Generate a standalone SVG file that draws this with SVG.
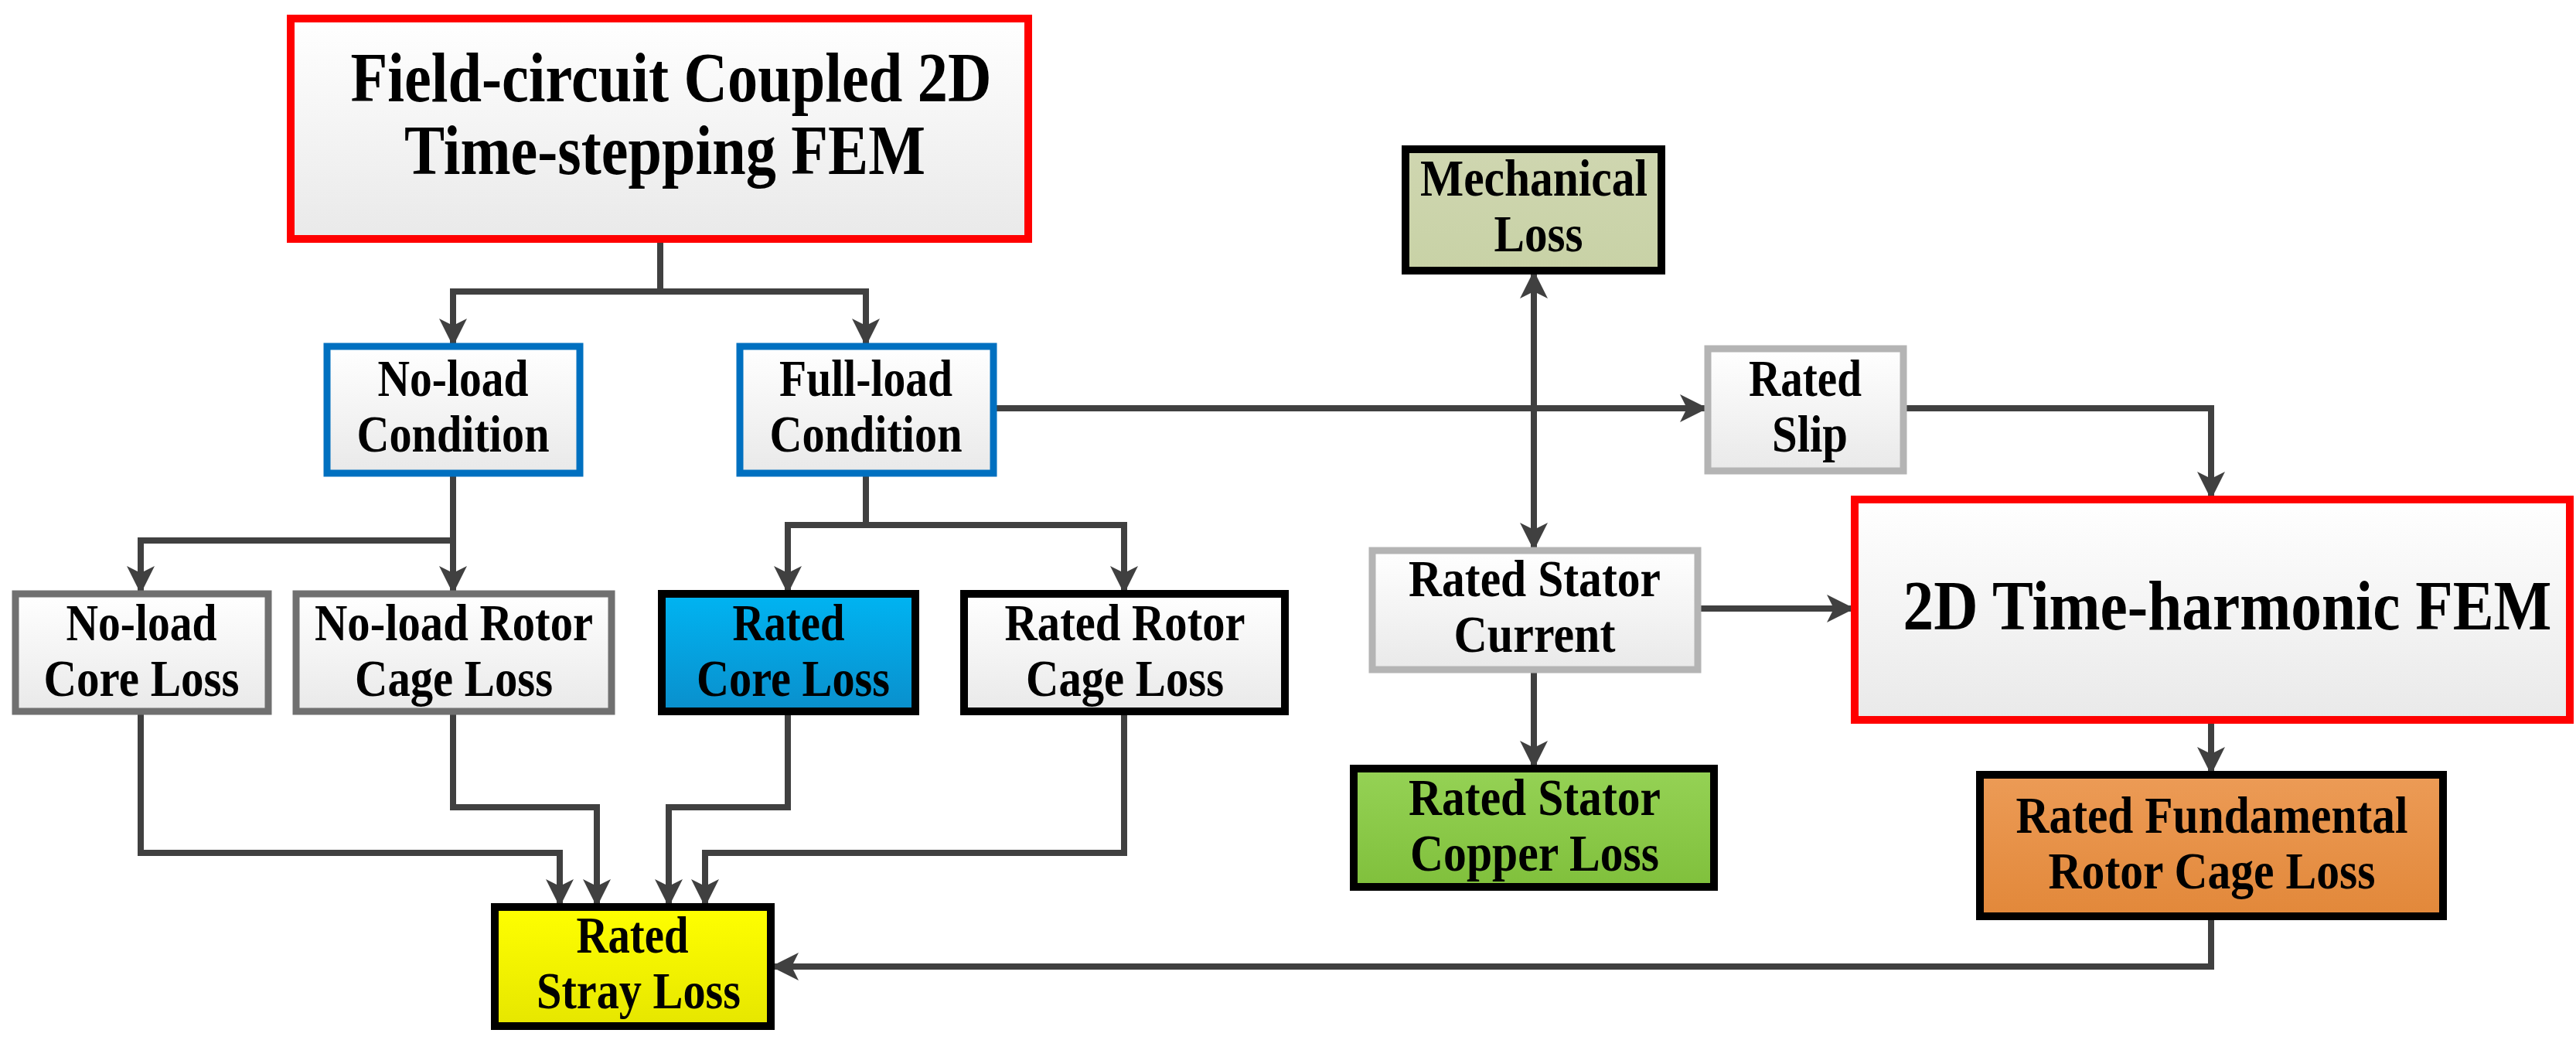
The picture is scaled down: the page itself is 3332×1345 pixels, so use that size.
<svg xmlns="http://www.w3.org/2000/svg" width="3332" height="1345" viewBox="0 0 3332 1345" font-family="'Liberation Serif', 'Times New Roman', 'DejaVu Serif', serif">
<defs>
<linearGradient id="gw" x1="0" y1="0" x2="0" y2="1"><stop offset="0" stop-color="#ffffff"/><stop offset="1" stop-color="#e9e9e9"/></linearGradient>
<linearGradient id="gb" x1="0" y1="0" x2="0" y2="1"><stop offset="0" stop-color="#00b4f2"/><stop offset="1" stop-color="#0a8fcc"/></linearGradient>
<linearGradient id="gy" x1="0" y1="0" x2="0" y2="1"><stop offset="0" stop-color="#ffff00"/><stop offset="1" stop-color="#e6e600"/></linearGradient>
<linearGradient id="gm" x1="0" y1="0" x2="0" y2="1"><stop offset="0" stop-color="#cfd6b0"/><stop offset="1" stop-color="#c8d2a6"/></linearGradient>
<linearGradient id="gg" x1="0" y1="0" x2="0" y2="1"><stop offset="0" stop-color="#95d255"/><stop offset="1" stop-color="#80c03c"/></linearGradient>
<linearGradient id="go" x1="0" y1="0" x2="0" y2="1"><stop offset="0" stop-color="#ec9b56"/><stop offset="1" stop-color="#e2883a"/></linearGradient>
<marker id="ah" markerUnits="userSpaceOnUse" markerWidth="40" markerHeight="36" refX="34" refY="18" orient="auto"><path d="M0,0 L36,18 L0,36 L9,18 Z" fill="#404040"/></marker>
<marker id="as" markerUnits="userSpaceOnUse" markerWidth="40" markerHeight="36" refX="34" refY="18" orient="auto-start-reverse"><path d="M0,0 L36,18 L0,36 L9,18 Z" fill="#404040"/></marker>
</defs>
<style>
text{font-family:"Liberation Serif","Times New Roman","DejaVu Serif",serif;font-weight:bold;fill:#000;text-anchor:middle}
.t{font-size:68px}
.big{font-size:92px}
.c{fill:none;stroke:#404040;stroke-width:8}
.gr{fill:url(#gw);stroke:#707070;stroke-width:9}
.lg{fill:url(#gw);stroke:#b4b4b4;stroke-width:9}
.bl{fill:url(#gw);stroke:#0070c0;stroke-width:9}
.bk{stroke:#000;stroke-width:10}
.rd{fill:url(#gw);stroke:#ff0000;stroke-width:10}
</style>
<g id="connectors">
<path class="c" d="M854,309 V377 H586 V446" marker-end="url(#ah)"/>
<path class="c" d="M854,377 H1120 V446" marker-end="url(#ah)"/>
<path class="c" d="M586,612 V699 H182 V766" marker-end="url(#ah)"/>
<path class="c" d="M586,699 V766" marker-end="url(#ah)"/>
<path class="c" d="M1120,612 V679 H1019 V766" marker-end="url(#ah)"/>
<path class="c" d="M1120,679 H1454 V766" marker-end="url(#ah)"/>
<path class="c" d="M182,920 V1103 H724 V1171" marker-end="url(#ah)"/>
<path class="c" d="M586,920 V1044 H772 V1171" marker-end="url(#ah)"/>
<path class="c" d="M1019,920 V1044 H865 V1171" marker-end="url(#ah)"/>
<path class="c" d="M1454,920 V1103 H912 V1171" marker-end="url(#ah)"/>
<path class="c" d="M1285,528 H2207" marker-end="url(#ah)"/>
<path class="c" d="M2462,528 H2860 V644" marker-end="url(#ah)"/>
<path class="c" d="M1984,352 V710" marker-start="url(#as)" marker-end="url(#ah)"/>
<path class="c" d="M2196,787 H2397" marker-end="url(#ah)"/>
<path class="c" d="M1984,866 V992" marker-end="url(#ah)"/>
<path class="c" d="M2860,931 V1000" marker-end="url(#ah)"/>
<path class="c" d="M2860,1185 V1250 H999" marker-end="url(#ah)"/>
</g>
<g id="n-top"><rect class="rd" x="376" y="24" width="954" height="285"/><text class="big" x="868" y="131" textLength="829" lengthAdjust="spacingAndGlyphs">Field-circuit Coupled 2D</text><text class="big" x="860" y="225" textLength="674" lengthAdjust="spacingAndGlyphs">Time-stepping FEM</text></g>
<g id="n-noload"><rect class="bl" x="423" y="448" width="327" height="164"/><text class="t" x="586" y="512" textLength="195" lengthAdjust="spacingAndGlyphs">No-load</text><text class="t" x="586" y="584" textLength="249" lengthAdjust="spacingAndGlyphs">Condition</text></g>
<g id="n-fullload"><rect class="bl" x="957" y="448" width="328" height="164"/><text class="t" x="1120" y="512" textLength="224" lengthAdjust="spacingAndGlyphs">Full-load</text><text class="t" x="1120" y="584" textLength="249" lengthAdjust="spacingAndGlyphs">Condition</text></g>
<g id="n-nlcore"><rect class="gr" x="20" y="768" width="327" height="152"/><text class="t" x="183" y="828" textLength="195" lengthAdjust="spacingAndGlyphs">No-load</text><text class="t" x="183" y="900" textLength="253" lengthAdjust="spacingAndGlyphs">Core Loss</text></g>
<g id="n-nlrotor"><rect class="gr" x="383" y="768" width="408" height="152"/><text class="t" x="587" y="828" textLength="360" lengthAdjust="spacingAndGlyphs">No-load Rotor</text><text class="t" x="587" y="900" textLength="256" lengthAdjust="spacingAndGlyphs">Cage Loss</text></g>
<g id="n-ratedcore"><rect class="bk" fill="url(#gb)" x="856" y="768" width="328" height="152"/><text class="t" x="1020" y="828" textLength="145" lengthAdjust="spacingAndGlyphs">Rated</text><text class="t" x="1026" y="900" textLength="250" lengthAdjust="spacingAndGlyphs">Core Loss</text></g>
<g id="n-ratedrotor"><rect class="bk" fill="url(#gw)" x="1247" y="768" width="415" height="152"/><text class="t" x="1455" y="828" textLength="311" lengthAdjust="spacingAndGlyphs">Rated Rotor</text><text class="t" x="1455" y="900" textLength="256" lengthAdjust="spacingAndGlyphs">Cage Loss</text></g>
<g id="n-stray"><rect class="bk" fill="url(#gy)" x="640" y="1173" width="357" height="154"/><text class="t" x="818" y="1232" textLength="145" lengthAdjust="spacingAndGlyphs">Rated</text><text class="t" x="826" y="1304" textLength="264" lengthAdjust="spacingAndGlyphs">Stray Loss</text></g>
<g id="n-mech"><rect class="bk" fill="url(#gm)" x="1818" y="193" width="331" height="157"/><text class="t" x="1984" y="253" textLength="294" lengthAdjust="spacingAndGlyphs">Mechanical</text><text class="t" x="1990" y="325" textLength="115" lengthAdjust="spacingAndGlyphs">Loss</text></g>
<g id="n-slip"><rect class="lg" x="2209" y="451" width="253" height="158"/><text class="t" x="2335" y="512" textLength="146" lengthAdjust="spacingAndGlyphs">Rated</text><text class="t" x="2341" y="584" textLength="98" lengthAdjust="spacingAndGlyphs">Slip</text></g>
<g id="n-current"><rect class="lg" x="1775" y="712" width="421" height="154"/><text class="t" x="1985" y="771" textLength="326" lengthAdjust="spacingAndGlyphs">Rated Stator</text><text class="t" x="1985" y="843" textLength="209" lengthAdjust="spacingAndGlyphs">Current</text></g>
<g id="n-harmonic"><rect class="rd" x="2399" y="646" width="925" height="285"/><text class="big" x="2881" y="814" textLength="839" lengthAdjust="spacingAndGlyphs">2D Time-harmonic FEM</text></g>
<g id="n-copper"><rect class="bk" fill="url(#gg)" x="1751" y="994" width="466" height="153"/><text class="t" x="1985" y="1054" textLength="326" lengthAdjust="spacingAndGlyphs">Rated Stator</text><text class="t" x="1985" y="1126" textLength="322" lengthAdjust="spacingAndGlyphs">Copper Loss</text></g>
<g id="n-fund"><rect class="bk" fill="url(#go)" x="2561" y="1002" width="599" height="183"/><text class="t" x="2861" y="1077" textLength="507" lengthAdjust="spacingAndGlyphs">Rated Fundamental</text><text class="t" x="2861" y="1149" textLength="423" lengthAdjust="spacingAndGlyphs">Rotor Cage Loss</text></g>
</svg>
